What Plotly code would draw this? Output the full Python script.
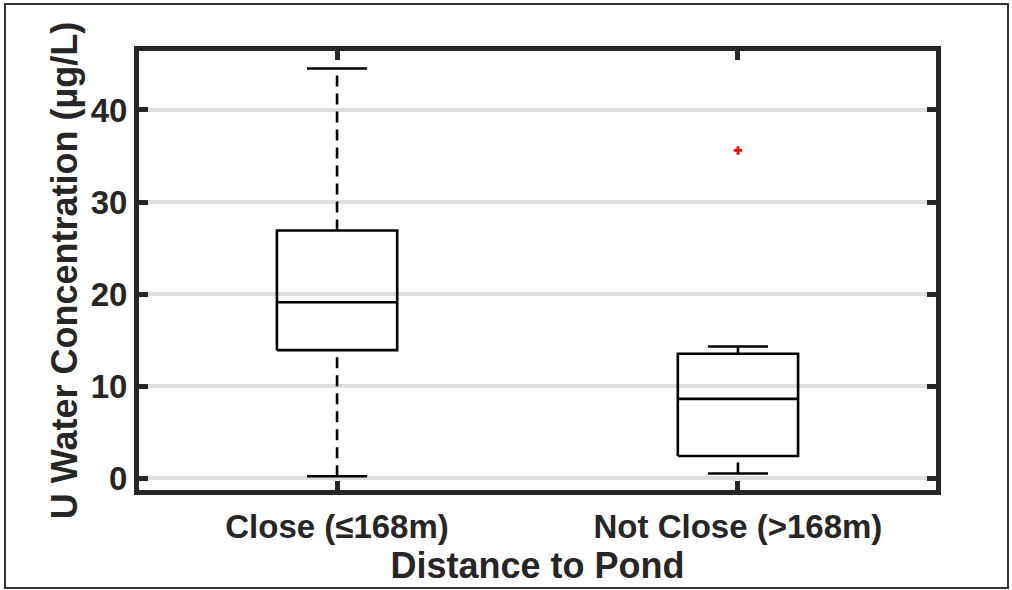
import plotly.graph_objects as go

# ---- data ----
categories = ["Close (≤168m)", "Not Close (>168m)"]
q1 = [13.9, 2.4]
median = [19.1, 8.6]
q3 = [26.9, 13.5]
lower_whisker = [0.2, 0.5]
upper_whisker = [44.5, 14.3]
outliers = [[], [35.6]]
y_ticks = [0, 10, 20, 30, 40]

# ---- style ----
BOX_HALF = 0.15
CAP_HALF = 0.075
INK = "#000000"
TXT = "#262626"
LW = 2.6
FONT = "Liberation Sans"

positions = list(range(1, len(categories) + 1))

fig = go.Figure()

for p, a, m, b, lo, hi, outs in zip(positions, q1, median, q3, lower_whisker, upper_whisker, outliers):
    # whiskers (dashed)
    fig.add_trace(go.Scatter(x=[p, p], y=[b, hi], mode="lines",
                             line=dict(color=INK, width=LW, dash="11px,7px"),
                             hoverinfo="skip", showlegend=False))
    fig.add_trace(go.Scatter(x=[p, p], y=[lo, a], mode="lines",
                             line=dict(color=INK, width=LW, dash="11px,7px"),
                             hoverinfo="skip", showlegend=False))
    # caps
    for v in (lo, hi):
        fig.add_trace(go.Scatter(x=[p - CAP_HALF, p + CAP_HALF], y=[v, v], mode="lines",
                                 line=dict(color=INK, width=LW),
                                 hoverinfo="skip", showlegend=False))
    # box
    fig.add_trace(go.Scatter(x=[p - BOX_HALF, p + BOX_HALF, p + BOX_HALF, p - BOX_HALF, p - BOX_HALF],
                             y=[a, a, b, b, a], mode="lines",
                             line=dict(color=INK, width=LW),
                             hoverinfo="skip", showlegend=False))
    # median
    fig.add_trace(go.Scatter(x=[p - BOX_HALF, p + BOX_HALF], y=[m, m], mode="lines",
                             line=dict(color=INK, width=LW),
                             hoverinfo="skip", showlegend=False))
    # outliers
    if outs:
        fig.add_trace(go.Scatter(x=[p] * len(outs), y=outs, mode="markers",
                                 marker=dict(symbol="cross", size=7, color="#ff0000"),
                                 hoverinfo="skip", showlegend=False))

W, H = 1012, 590
L, R, T, B = 139, 76, 51, 100
pw, ph = W - L - R, H - T - B

fig.update_layout(
    width=W, height=H,
    margin=dict(l=L, r=R, t=T, b=B, autoexpand=False),
    paper_bgcolor="white", plot_bgcolor="white",
    font=dict(family=FONT, color=TXT, weight="bold"),
    xaxis=dict(
        range=[0.506, 2.494],
        tickmode="array", tickvals=positions, ticktext=categories,
        tickfont=dict(size=33, family=FONT, color=TXT, weight="bold"),
        ticks="inside", ticklen=9, tickwidth=5, tickcolor="#262626",
        ticklabelstandoff=3,
        showline=True, linewidth=5, linecolor="#262626", mirror="ticks",
        showgrid=False, zeroline=False,
        title=dict(text="Distance to Pond", font=dict(size=36, family=FONT, color=TXT, weight="bold"), standoff=6),
    ),
    yaxis=dict(
        range=[-1.30, 46.41],
        tickmode="array", tickvals=y_ticks,
        tickfont=dict(size=33, family=FONT, color=TXT, weight="bold"),
        ticks="inside", ticklen=9, tickwidth=5, tickcolor="#262626",
        showline=True, linewidth=5, linecolor="#262626", mirror="ticks",
        showgrid=True, gridcolor="#dedede", gridwidth=4, zeroline=False,
        title=dict(text="U Water Concentration (µg/L)", font=dict(size=36, family=FONT, color=TXT, weight="bold"), standoff=4),
    ),
)

# outer frame of the figure
fig.add_shape(type="rect", xref="paper", yref="paper",
              x0=(5 - L) / pw, x1=(1008 - L) / pw,
              y0=(H - B - 588) / ph, y1=(H - B - 4) / ph,
              line=dict(color="#333333", width=2), fillcolor="rgba(0,0,0,0)", layer="above")

fig.write_html("out.html", config={"displayModeBar": False},
               post_script="document.body.style.margin='0';document.body.style.overflow='hidden';")
